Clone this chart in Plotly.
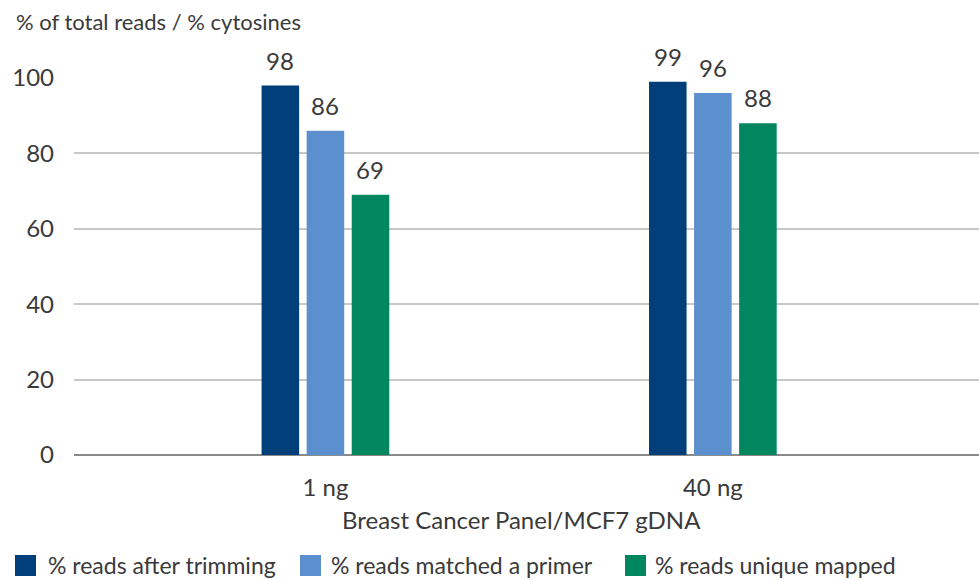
import plotly.graph_objects as go

# Data
categories = ["1 ng", "40 ng"]
series_names = ["% reads after trimming", "% reads matched a primer", "% reads unique mapped"]
after_trimming = [98, 99]
matched_primer = [86, 96]
unique_mapped = [69, 88]
y_ticks = [0, 20, 40, 60, 80, 100]

colors = ["#003F7A", "#5B8FCD", "#00875F"]
text_color = "#3A3A3A"
font_family = "Lato, 'Open Sans', sans-serif"

W, H = 979, 580
M_L, M_R, M_T, M_B = 74, 0, 78, 125
SLOT_PX = 45  # horizontal distance between neighbouring bars in a group

fig = go.Figure()
all_series = [after_trimming, matched_primer, unique_mapped]
for i, (name, vals, col) in enumerate(zip(series_names, all_series, colors)):
    fig.add_trace(go.Bar(
        x=categories, y=vals, name=name,
        marker=dict(color=col, line=dict(width=0)),
        showlegend=False,
    ))
    # value labels above each bar
    for cat, v in zip(categories, vals):
        fig.add_annotation(x=cat, y=v, xref="x", yref="y", text=str(v),
                           showarrow=False, xanchor="center", yanchor="bottom",
                           xshift=(i - 1) * SLOT_PX, yshift=9,
                           font=dict(size=24, color=text_color, family=font_family))

# Custom legend (large square swatches)
legend_items = [(15, 46), (300, 329), (625, 653)]
pw = W - M_L - M_R
ph = H - M_T - M_B
def px_x(p):
    return (p - M_L) / pw
def px_y(p):
    return (H - M_B - p) / ph

for (sx, tx), name, col in zip(legend_items, series_names, colors):
    fig.add_shape(type="rect", xref="paper", yref="paper",
                  x0=px_x(sx), x1=px_x(sx + 21), y0=px_y(576), y1=px_y(555),
                  fillcolor=col, line=dict(width=0))
    fig.add_annotation(xref="paper", yref="paper", x=px_x(tx), y=px_y(565),
                       text=name, showarrow=False, xanchor="left", yanchor="middle",
                       font=dict(size=23, color=text_color, family=font_family))

# Axis titles
fig.add_annotation(xref="paper", yref="paper", x=px_x(14), y=px_y(22),
                   text="% of total reads / % cytosines", showarrow=False,
                   xanchor="left", yanchor="middle",
                   font=dict(size=22, color=text_color, family=font_family))
fig.add_annotation(xref="paper", yref="paper", x=px_x(521), y=px_y(519),
                   text="Breast Cancer Panel/MCF7 gDNA", showarrow=False,
                   xanchor="center", yanchor="middle",
                   font=dict(size=24, color=text_color, family=font_family))

fig.update_layout(
    width=W, height=H,
    margin=dict(l=M_L, r=M_R, t=M_T, b=M_B, pad=0),
    paper_bgcolor="white", plot_bgcolor="white",
    barmode="group", bargap=0.651, bargroupgap=0.167,
    font=dict(family=font_family, color=text_color),
)
fig.update_xaxes(
    type="category", range=[-0.649, 1.687],
    showgrid=False, zeroline=False, showline=False,
    ticks="", ticklabelstandoff=16,
    tickfont=dict(size=24, color=text_color, family=font_family),
)
fig.update_yaxes(
    range=[0, 100], tickvals=y_ticks,
    showgrid=True, gridcolor="#C8C8C8", gridwidth=2,
    zeroline=True, zerolinecolor="#8A8A8A", zerolinewidth=2,
    showline=False, ticks="", ticklabelstandoff=19,
    tickfont=dict(size=24, color=text_color, family=font_family),
)

fig.write_html("out.html")
